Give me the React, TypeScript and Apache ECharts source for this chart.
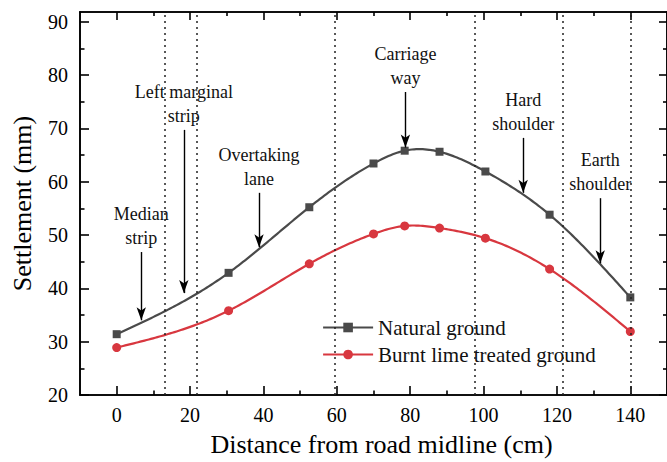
import React, { useEffect, useRef } from "react";
import * as echarts from "echarts";

// Distance from road midline (cm) of each measuring point
const distances = [0, 30.5, 52.5, 70, 78.5, 88, 100.5, 118, 140];
// Settlement (mm)
const naturalGround = [31.4, 42.9, 55.2, 63.4, 65.8, 65.6, 61.9, 53.8, 38.3];
const limeTreated = [28.9, 35.8, 44.6, 50.2, 51.7, 51.3, 49.4, 43.6, 31.9];

const seriesNames = ["Natural ground", "Burnt lime treated ground"];

const xMajorTicks = [0, 20, 40, 60, 80, 100, 120, 140];
const xMinorTicks = [10, 30, 50, 70, 90, 110, 130];
const yMajorTicks = [20, 30, 40, 50, 60, 70, 80, 90];
const yMinorTicks = [25, 35, 45, 55, 65, 75, 85];

// Boundaries between cross-section zones (cm)
const zoneBoundaries = [13.2, 21.7, 59.5, 97.7, 121.5, 140];

// Zone annotations: label, x of arrow, arrow top and tip (mm)
const zoneLabels = [
  "Median\nstrip",
  "Left marginal\nstrip",
  "Overtaking\nlane",
  "Carriage\nway",
  "Hard\nshoulder",
  "Earth\nshoulder",
];
const zoneArrowX = [6.7, 18.3, 38.8, 78.7, 110.8, 131.8];
const zoneArrowTop = [46.8, 69.7, 57.9, 76.8, 68.2, 56.9];
const zoneArrowTip = [34.0, 39.1, 47.7, 66.4, 57.9, 44.7];

const FONT = "'Liberation Serif', 'Times New Roman', serif";
const INK = "#000";
const GREY = "#4a4a4a";
const RED = "#d8373f";

const X_MIN = -10;
const X_MAX = 150;
const Y_MIN = 20;
const Y_MAX = 91.8;

// Natural cubic spline through (xs, ys); returns an evaluator.
function naturalSpline(xs: number[], ys: number[]) {
  const n = xs.length;
  const h: number[] = [];
  for (let i = 0; i < n - 1; i++) h.push(xs[i + 1] - xs[i]);
  const a: number[] = new Array(n).fill(0);
  const b: number[] = new Array(n).fill(0);
  const c: number[] = new Array(n).fill(0);
  const d: number[] = new Array(n).fill(0);
  b[0] = 1;
  b[n - 1] = 1;
  for (let i = 1; i < n - 1; i++) {
    a[i] = h[i - 1];
    b[i] = 2 * (h[i - 1] + h[i]);
    c[i] = h[i];
    d[i] = 3 * ((ys[i + 1] - ys[i]) / h[i] - (ys[i] - ys[i - 1]) / h[i - 1]);
  }
  // Thomas algorithm for the second-derivative coefficients
  const cp: number[] = new Array(n).fill(0);
  const dp: number[] = new Array(n).fill(0);
  cp[0] = c[0] / b[0];
  dp[0] = d[0] / b[0];
  for (let i = 1; i < n; i++) {
    const m = b[i] - a[i] * cp[i - 1];
    cp[i] = c[i] / m;
    dp[i] = (d[i] - a[i] * dp[i - 1]) / m;
  }
  const cc: number[] = new Array(n).fill(0);
  cc[n - 1] = dp[n - 1];
  for (let i = n - 2; i >= 0; i--) cc[i] = dp[i] - cp[i] * cc[i + 1];
  const bb: number[] = [];
  const dd: number[] = [];
  for (let i = 0; i < n - 1; i++) {
    bb.push((ys[i + 1] - ys[i]) / h[i] - (h[i] * (cc[i + 1] + 2 * cc[i])) / 3);
    dd.push((cc[i + 1] - cc[i]) / (3 * h[i]));
  }
  return (x: number) => {
    let i = 0;
    while (i < n - 2 && x > xs[i + 1]) i++;
    const t = x - xs[i];
    return ys[i] + bb[i] * t + cc[i] * t * t + dd[i] * t * t * t;
  };
}

function curveSeries(values: number[], color: string) {
  const f = naturalSpline(distances, values);
  return {
    type: "custom",
    silent: true,
    z: 2,
    data: distances.map((d, i) => [d, values[i]]),
    encode: { x: 0, y: 1 },
    renderItem: (params: any, api: any) => {
      if (params.dataIndex !== 0) return null;
      const x0 = distances[0];
      const x1 = distances[distances.length - 1];
      const steps = 240;
      const pts: number[][] = [];
      for (let k = 0; k <= steps; k++) {
        const x = x0 + ((x1 - x0) * k) / steps;
        pts.push(api.coord([x, f(x)]));
      }
      return {
        type: "polyline",
        shape: { points: pts },
        style: { stroke: color, lineWidth: 2.2, fill: "none" },
      };
    },
  };
}

function makeXAxis(position: "bottom" | "top", ticks: number[], len: number, labels: boolean, name?: string) {
  return {
    type: "value",
    position,
    min: X_MIN,
    max: X_MAX,
    name: name,
    nameLocation: "middle",
    nameGap: 36,
    nameTextStyle: { fontFamily: FONT, fontSize: 26, color: INK, padding: [0, 0, 0, 16] },
    axisLine: { show: true, onZero: false, lineStyle: { color: INK, width: 1.6 } },
    axisTick: { show: true, inside: true, length: len, customValues: ticks, lineStyle: { color: INK, width: 1.6 } },
    axisLabel: {
      show: labels,
      customValues: ticks,
      margin: 10,
      fontFamily: FONT,
      fontSize: 20,
      color: INK,
    },
    splitLine: { show: false },
  };
}

function makeYAxis(position: "left" | "right", ticks: number[], len: number, labels: boolean, name?: string) {
  return {
    type: "value",
    position,
    min: Y_MIN,
    max: Y_MAX,
    name: name,
    nameLocation: "middle",
    nameGap: 45,
    nameTextStyle: { fontFamily: FONT, fontSize: 26, color: INK },
    axisLine: { show: true, onZero: false, lineStyle: { color: INK, width: 1.6 } },
    axisTick: { show: true, inside: true, length: len, customValues: ticks, lineStyle: { color: INK, width: 1.6 } },
    axisLabel: {
      show: labels,
      customValues: ticks,
      margin: 12,
      fontFamily: FONT,
      fontSize: 20,
      color: INK,
    },
    splitLine: { show: false },
  };
}

export default function App() {
  const ref = useRef<HTMLDivElement>(null);

  useEffect(() => {
    if (!ref.current) return;
    const chart = echarts.init(ref.current, undefined, { renderer: "svg" });

    const arrowLines = zoneLabels.map((text, i) => [
      {
        coord: [zoneArrowX[i], zoneArrowTop[i]],
        label: {
          show: true,
          position: "start",
          distance: 2,
          formatter: text,
          align: "center",
          fontFamily: FONT,
          fontSize: 18,
          lineHeight: 24,
          color: "#111",
        },
      },
      { coord: [zoneArrowX[i], zoneArrowTip[i]] },
    ]);

    chart.setOption({
      animation: false,
      backgroundColor: "#fff",
      textStyle: { fontFamily: FONT },
      grid: { left: 80, right: -2, top: 12, bottom: 67, containLabel: false },
      xAxis: [
        makeXAxis("bottom", xMajorTicks, 9, true, "Distance from road midline (cm)"),
        makeXAxis("bottom", xMinorTicks, 4.5, false),
        makeXAxis("top", xMajorTicks, 8, false),
        makeXAxis("top", xMinorTicks, 4, false),
      ],
      yAxis: [
        makeYAxis("left", yMajorTicks, 9, true, "Settlement (mm)"),
        makeYAxis("left", yMinorTicks, 4.5, false),
        makeYAxis("right", yMajorTicks, 8, false),
        makeYAxis("right", yMinorTicks, 4, false),
      ],
      legend: {
        orient: "vertical",
        left: 317,
        top: 312,
        itemWidth: 50,
        itemHeight: 12,
        itemGap: 6,
        data: [
          { name: seriesNames[0], lineStyle: { opacity: 1, width: 2.2, color: GREY } },
          { name: seriesNames[1], lineStyle: { opacity: 1, width: 2.2, color: RED } },
        ],
        textStyle: { fontFamily: FONT, fontSize: 21, color: "#111", lineHeight: 18 },
      },
      series: [
        curveSeries(naturalGround, GREY),
        curveSeries(limeTreated, RED),
        {
          name: seriesNames[0],
          type: "line",
          data: distances.map((d, i) => [d, naturalGround[i]]),
          symbol: "rect",
          symbolSize: 8,
          itemStyle: { color: GREY },
          lineStyle: { color: GREY, width: 2.2, opacity: 0 },
          z: 3,
          markLine: {
            silent: true,
            symbol: ["none", "none"],
            label: { show: false },
            lineStyle: { color: "#222", width: 1.5, type: [2, 4], opacity: 1 },
            data: zoneBoundaries.map((v) => ({ xAxis: v })),
          },
        },
        {
          name: seriesNames[1],
          type: "line",
          data: distances.map((d, i) => [d, limeTreated[i]]),
          symbol: "circle",
          symbolSize: 9,
          itemStyle: { color: RED },
          lineStyle: { color: RED, width: 2.2, opacity: 0 },
          z: 3,
        },
        {
          name: "zones",
          type: "line",
          data: [],
          markLine: {
            silent: true,
            symbol: ["none", "arrow"],
            symbolSize: [7, 13],
            lineStyle: { color: INK, width: 1.4, type: "solid", opacity: 1 },
            data: arrowLines,
          },
          z: 4,
        },
      ],
    });

    return () => chart.dispose();
  }, []);

  return (
    <div
      ref={ref}
      style={{ position: "absolute", left: 0, top: 0, width: 667, height: 462, background: "#fff" }}
    />
  );
}
